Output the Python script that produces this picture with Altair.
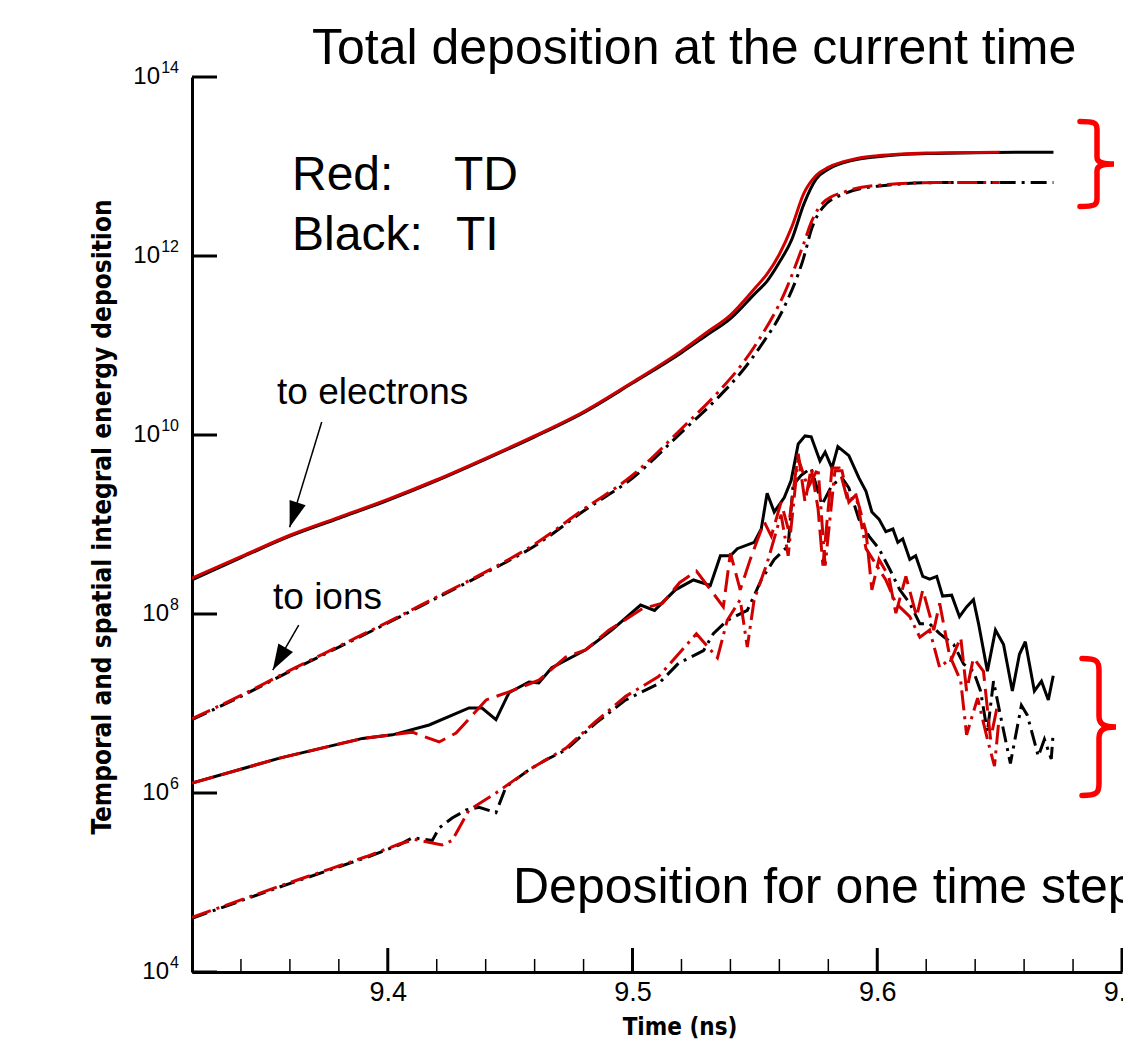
import altair as alt
import pandas as pd

# ---------------- data ----------------
# times (ns) and log10 of deposition
e_tot_ti_t = [9.32, 9.34, 9.36, 9.38, 9.40, 9.42, 9.44, 9.46, 9.48, 9.50, 9.52, 9.53, 9.54, 9.55,
              9.555, 9.56, 9.565, 9.57, 9.575, 9.58, 9.59, 9.60, 9.61, 9.62, 9.64, 9.672]
e_tot_ti_e = [8.38, 8.63, 8.87, 9.07, 9.27, 9.49, 9.73, 9.98, 10.25, 10.58, 10.92, 11.11, 11.30, 11.58,
              11.72, 11.93, 12.18, 12.58, 12.86, 12.97, 13.07, 13.11, 13.135, 13.145, 13.155, 13.16]

e_tot_td_t = [9.32, 9.34, 9.36, 9.38, 9.40, 9.42, 9.44, 9.46, 9.48, 9.50, 9.52, 9.53, 9.54, 9.55,
              9.555, 9.56, 9.565, 9.57, 9.575, 9.58, 9.59, 9.60, 9.61, 9.62, 9.65]
e_tot_td_e = [8.40, 8.64, 8.88, 9.08, 9.28, 9.50, 9.74, 9.99, 10.26, 10.59, 10.94, 11.14, 11.34, 11.64,
              11.80, 12.02, 12.32, 12.70, 12.90, 12.99, 13.08, 13.12, 13.14, 13.15, 13.16]

i_tot_ti_t = [9.32, 9.34, 9.36, 9.38, 9.40, 9.42, 9.44, 9.46, 9.48, 9.50, 9.52, 9.535, 9.545, 9.552,
              9.562, 9.5697, 9.5734, 9.578, 9.587, 9.60, 9.624, 9.672]
i_tot_ti_e = [6.82, 7.08, 7.36, 7.63, 7.90, 8.18, 8.46, 8.76, 9.15, 9.52, 10.03, 10.42, 10.72, 10.98,
              11.43, 11.96, 12.32, 12.55, 12.70, 12.78, 12.82, 12.82]

i_tot_td_t = [9.32, 9.34, 9.36, 9.38, 9.40, 9.42, 9.44, 9.46, 9.48, 9.50, 9.52, 9.535, 9.545, 9.552,
              9.562, 9.5697, 9.5734, 9.578, 9.587, 9.60, 9.624, 9.65]
i_tot_td_e = [6.83, 7.09, 7.37, 7.64, 7.91, 8.19, 8.47, 8.78, 9.17, 9.55, 10.07, 10.48, 10.80, 11.08,
              11.58, 12.12, 12.40, 12.60, 12.72, 12.79, 12.82, 12.82]

e_step_ti_t = [9.32, 9.3558, 9.3897, 9.4019, 9.4169, 9.4332, 9.4385, 9.4442, 9.4495, 9.4577, 9.4617,
               9.4670, 9.4809, 9.4915, 9.5033, 9.5090, 9.5175, 9.5249, 9.5318, 9.5359, 9.5400, 9.5428,
               9.5497, 9.5526, 9.5550, 9.5579, 9.5620, 9.5648, 9.5677, 9.5705, 9.5730, 9.5766, 9.5787,
               9.5815, 9.5839, 9.5884, 9.5925, 9.5954, 9.5978, 9.6007, 9.6035, 9.6064, 9.6084, 9.6104,
               9.6133, 9.6157, 9.6186, 9.6214, 9.6243, 9.6267, 9.6304, 9.6336, 9.6365, 9.6393, 9.6414,
               9.6450, 9.6483, 9.6516, 9.6552, 9.6581, 9.6605, 9.6642, 9.6671, 9.6699, 9.6719]
e_step_ti_e = [6.11, 6.39, 6.61, 6.65, 6.76, 6.95, 6.95, 6.82, 7.12, 7.24, 7.23,
               7.40, 7.60, 7.82, 8.10, 8.04, 8.27, 8.38, 8.32, 8.65, 8.65, 8.73,
               8.80, 8.95, 9.35, 9.14, 9.30, 9.49, 9.90, 9.99, 9.98, 9.71, 9.81,
               9.63, 9.87, 9.77, 9.52, 9.37, 9.14, 9.06, 8.92, 8.95, 8.80, 8.84,
               8.61, 8.65, 8.42, 8.39, 8.42, 8.20, 8.21, 7.97, 8.08, 8.16, 7.89,
               7.36, 7.82, 7.66, 7.14, 7.55, 7.69, 7.14, 7.25, 7.04, 7.31]

e_step_td_t = [9.32, 9.3558, 9.3897, 9.41, 9.4210, 9.4279, 9.4402, 9.4495, 9.4617, 9.4727, 9.4809,
               9.4903, 9.5041, 9.5123, 9.5192, 9.5261, 9.5330, 9.5371, 9.5400, 9.5440, 9.5481, 9.5538,
               9.5567, 9.5607, 9.5636, 9.5677, 9.5705, 9.5730, 9.5758, 9.5778, 9.5815, 9.5844, 9.5876,
               9.5913, 9.5954, 9.5978, 9.6007, 9.6047, 9.6076, 9.6117, 9.6161, 9.6186, 9.6231, 9.6255,
               9.6300, 9.6341, 9.6365, 9.6393, 9.6434, 9.6463, 9.6491]
e_step_td_e = [6.11, 6.39, 6.61, 6.68, 6.57, 6.67, 7.04, 7.13, 7.26, 7.52, 7.60,
               7.82, 8.06, 8.12, 8.35, 8.48, 8.23, 8.08, 8.68, 8.27, 8.61, 9.03,
               8.87, 9.25, 8.95, 9.79, 9.25, 9.63, 9.18, 8.54, 9.63, 9.63, 9.30,
               9.33, 8.92, 8.27, 8.61, 8.42, 8.01, 8.42, 7.97, 8.27, 7.82, 8.12,
               7.47, 7.74, 7.14, 7.51, 7.36, 6.60, 6.98]

i_step_ti_t = [9.32, 9.3558, 9.3762, 9.3913, 9.4047, 9.41, 9.4182, 9.4210, 9.4263, 9.4320, 9.4373,
               9.4442, 9.4483, 9.4577, 9.4646, 9.4727, 9.4850, 9.4972, 9.5106, 9.5188, 9.5290, 9.5330,
               9.5387, 9.5469, 9.5526, 9.5579, 9.5636, 9.5656, 9.5689, 9.5730, 9.5774, 9.5815, 9.5856,
               9.5884, 9.5925, 9.5966, 9.6007, 9.6051, 9.6092, 9.6133, 9.6174, 9.6214, 9.6255, 9.6312,
               9.6353, 9.6393, 9.6422, 9.6450, 9.6475, 9.6503, 9.6544, 9.6589, 9.6613, 9.6658, 9.6683,
               9.6711, 9.6719]
i_step_ti_e = [4.60, 4.95, 5.14, 5.28, 5.42, 5.50, 5.47, 5.61, 5.72, 5.81, 5.84,
               5.78, 6.07, 6.26, 6.37, 6.48, 6.78, 7.04, 7.22, 7.45, 7.59, 7.78,
               7.93, 8.04, 8.38, 8.61, 8.76, 9.44, 9.55, 9.63, 9.22, 9.44, 9.52,
               9.41, 9.06, 8.87, 8.73, 8.50, 8.27, 8.12, 7.89, 7.89, 7.78, 7.66,
               7.44, 7.36, 7.14, 6.68, 7.25, 6.87, 6.33, 6.98, 6.87, 6.41, 6.60,
               6.38, 6.68]

i_step_td_t = [9.32, 9.3558, 9.3762, 9.3913, 9.4047, 9.4110, 9.4222, 9.4263, 9.4332, 9.4442, 9.4577,
               9.4727, 9.4850, 9.4972, 9.5106, 9.5261, 9.5347, 9.5387, 9.5440, 9.5469, 9.5497, 9.5550,
               9.5607, 9.5636, 9.5677, 9.5717, 9.5758, 9.5787, 9.5827, 9.5856, 9.5884, 9.5913, 9.5954,
               9.5982, 9.6035, 9.6076, 9.6133, 9.6174, 9.6214, 9.6255, 9.6300, 9.6341, 9.6365, 9.6410,
               9.6450, 9.6479, 9.6495]
i_step_td_e = [4.61, 4.96, 5.15, 5.29, 5.43, 5.48, 5.42, 5.47, 5.81, 6.00, 6.26,
               6.50, 6.80, 7.08, 7.30, 7.78, 7.51, 7.93, 8.16, 7.63, 8.16, 8.57,
               9.11, 8.65, 9.74, 9.41, 9.63, 8.54, 9.60, 9.60, 9.25, 9.33, 8.73,
               8.61, 8.38, 8.12, 7.97, 7.74, 7.82, 7.40, 7.51, 7.25, 6.65, 7.06,
               6.60, 6.30, 6.76]

# axis ticks / labels
x_major = [9.4, 9.5, 9.6, 9.7]
x_minor = [9.34, 9.36, 9.38, 9.42, 9.44, 9.46, 9.48, 9.52, 9.54, 9.56, 9.58, 9.62, 9.64, 9.66, 9.68]
y_major = [1e4, 1e6, 1e8, 1e10, 1e12, 1e14]
y_exponent = ["4", "6", "8", "10", "12", "14"]

# arrows (tail -> tip) in data coordinates
arrow_t0 = [9.373, 9.3636]
arrow_e0 = [10.145, 7.877]
arrow_t1 = [9.3599, 9.353]
arrow_e1 = [8.97, 7.374]
arrow_angle = [198, 210]

# ---------------- build tables ----------------
series_defs = [
    ("e_tot_ti", e_tot_ti_t, e_tot_ti_e),
    ("i_tot_ti", i_tot_ti_t, i_tot_ti_e),
    ("e_step_ti", e_step_ti_t, e_step_ti_e),
    ("i_step_ti", i_step_ti_t, i_step_ti_e),
    ("e_tot_td", e_tot_td_t, e_tot_td_e),
    ("i_tot_td", i_tot_td_t, i_tot_td_e),
    ("e_step_td", e_step_td_t, e_step_td_e),
    ("i_step_td", i_step_td_t, i_step_td_e),
]
rows = []
for name, ts, es in series_defs:
    for k, (t, e) in enumerate(zip(ts, es)):
        rows.append({"series": name, "t": t, "v": 10 ** e, "k": k})
df = pd.DataFrame(rows)

BLACK = "#000000"
RED = "#d00000"
FONT = "Liberation Sans"
NARROW = "DejaVu Sans Condensed, Liberation Sans"

xscale = alt.Scale(domain=[9.32, 9.7], nice=False, zero=False)
yscale = alt.Scale(type="log", domain=[1e4, 1e14], nice=False)

base = alt.Chart(df)

styles = {
    "e_tot_ti": (BLACK, None, True),
    "i_tot_ti": (BLACK, [16, 6, 3, 6], True),
    "e_step_ti": (BLACK, None, False),
    "i_step_ti": (BLACK, [16, 6, 3, 6], False),
    "e_tot_td": (RED, None, True),
    "i_tot_td": (RED, [20, 6, 3, 6], True),
    "e_step_td": (RED, [22, 8], False),
    "i_step_td": (RED, [20, 6, 3, 6], False),
}

layers = []
first = True
for name, _, _ in series_defs:
    color, dash, smooth = styles[name]
    mk = dict(color=color, strokeWidth=3, clip=True, strokeJoin="miter", strokeMiterLimit=3)
    if dash is not None:
        mk["strokeDash"] = dash
    if smooth:
        mk["interpolate"] = "monotone"
    if first:
        x_enc = alt.X("t:Q", scale=xscale, axis=alt.Axis(
            values=x_major, format=".1f", title=None, ticks=False, tickSize=0, grid=False,
            domainColor="black", domainWidth=3, labelFont=FONT, labelFontSize=27,
            labelColor="black", labelPadding=7, labelFlush=False, labelOverlap=False))
        y_enc = alt.Y("v:Q", scale=yscale, axis=alt.Axis(
            values=y_major, labels=False, title=None, ticks=False, tickSize=0,
            grid=False, domainColor="black", domainWidth=3))
        first = False
    else:
        x_enc = alt.X("t:Q", scale=xscale)
        y_enc = alt.Y("v:Q", scale=yscale)
    layers.append(
        base.transform_filter(alt.datum.series == name)
        .mark_line(**mk)
        .encode(x=x_enc, y=y_enc, order="k:Q")
    )

# y labels: "10" with superscript exponent
ylab_df = pd.DataFrame({"v": y_major, "p": y_exponent})
ylab_df["n"] = ylab_df["p"].str.len()
ylab_layers = []
for nd, shift in [(1, 9), (2, 18)]:
    sub = alt.Chart(ylab_df).transform_filter(alt.datum.n == nd)
    ylab_layers.append(sub.mark_text(font=FONT, fontSize=24, align="right",
                                     baseline="middle", color="black").encode(
        y=alt.Y("v:Q", scale=yscale), x=alt.value(-14 - shift), text=alt.value("10")))
    ylab_layers.append(sub.mark_text(font=FONT, fontSize=16, align="right",
                                     baseline="middle", color="black", dy=-9).encode(
        y=alt.Y("v:Q", scale=yscale), x=alt.value(-13), text="p:N"))

# inward ticks
ytick_df = pd.DataFrame({"v": y_major})
ytick = alt.Chart(ytick_df).mark_rule(color="black", strokeWidth=3).encode(
    y=alt.Y("v:Q", scale=yscale), x=alt.value(0), x2=alt.value(25))
xmaj_df = pd.DataFrame({"t": x_major})
xmaj = alt.Chart(xmaj_df).mark_rule(color="black", strokeWidth=3).encode(
    x=alt.X("t:Q", scale=xscale), y=alt.value(895), y2=alt.value(871))
xmin_df = pd.DataFrame({"t": x_minor})
xmin = alt.Chart(xmin_df).mark_rule(color="black", strokeWidth=1.5).encode(
    x=alt.X("t:Q", scale=xscale), y=alt.value(895), y2=alt.value(882))

# arrows
arr_df = pd.DataFrame({
    "t0": arrow_t0, "v0": [10 ** e for e in arrow_e0],
    "t1": arrow_t1, "v1": [10 ** e for e in arrow_e1],
    "ang": arrow_angle,
})
arr_line = alt.Chart(arr_df).mark_rule(color="black", strokeWidth=1.5).encode(
    x=alt.X("t0:Q", scale=xscale), y=alt.Y("v0:Q", scale=yscale),
    x2="t1:Q", y2="v1:Q")
arr_head = alt.Chart(arr_df).mark_point(
    shape="M0,0L-0.36,1.1L0.36,1.1Z", filled=True, color="black", opacity=1, size=2200,
    strokeWidth=0).encode(
    x=alt.X("t1:Q", scale=xscale), y=alt.Y("v1:Q", scale=yscale),
    angle=alt.Angle("ang:Q", scale=None))


def brace(px, py, height, width):
    r = height / 2.0
    w = width / r / 2.0
    path = (f"M{-w:.3f},-1 C{-w * 0.1:.3f},-1 0,-0.96 0,-0.82 L0,-0.16 "
            f"C0,-0.04 {w * 0.3:.3f},0 {w:.3f},0 C{w * 0.3:.3f},0 0,0.04 0,0.16 "
            f"L0,0.82 C0,0.96 {-w * 0.1:.3f},1 {-w:.3f},1")
    return alt.Chart(pd.DataFrame({"s": [0]})).mark_point(
        shape=path, filled=False, color="#ff0000", strokeWidth=5.5, size=height * height,
        opacity=1, strokeCap="round").encode(x=alt.value(px), y=alt.value(py))


def txt(s, x, y, size, font=FONT, weight="normal", color="black", align="left",
        baseline="alphabetic", angle=0):
    kw = dict(font=font, fontSize=size, fontWeight=weight, color=color, align=align,
              baseline=baseline)
    if angle:
        kw["angle"] = angle
    return alt.Chart(pd.DataFrame({"s": [s]})).mark_text(**kw).encode(
        x=alt.value(x), y=alt.value(y), text="s:N")


texts = [
    txt("Total deposition at the current time", 120, -13, 50),
    txt("Deposition for one time step", 321, 826, 50),
    txt("Red:", 100, 113, 48),
    txt("TD", 262, 113, 48),
    txt("Black:", 100, 173, 48),
    txt("TI", 264, 173, 48),
    txt("to electrons", 85, 327, 37),
    txt("to ions", 81, 532, 37),
    txt("Time (ns)", 488, 951, 24, font=NARROW, weight="bold", align="center",
        baseline="middle"),
    txt("Temporal and spatial integral energy deposition", -89, 440, 26, font=NARROW,
        weight="bold", align="center", baseline="middle", angle=270),
]

braces = [brace(905, 87, 85, 34), brace(907, 650, 137, 34)]

chart = alt.layer(*layers, ytick, xmaj, xmin, arr_line, arr_head, *ylab_layers, *texts,
                  *braces).properties(
    width=930, height=895,
    padding={"left": 184, "top": 69, "right": 1, "bottom": 70},
    autosize=alt.AutoSizeParams(type="none"),
).configure_view(stroke=None)

chart.save("out.html", embed_options={"renderer": "svg", "actions": False})
